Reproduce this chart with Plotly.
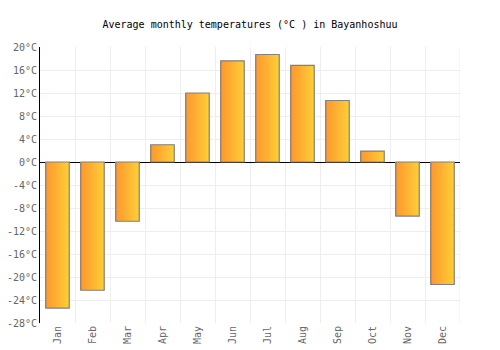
import plotly.graph_objects as go

months = ["Jan", "Feb", "Mar", "Apr", "May", "Jun", "Jul", "Aug", "Sep", "Oct", "Nov", "Dec"]
temps = [-25.4, -22.3, -10.3, 3.0, 12.0, 17.6, 18.7, 16.8, 10.7, 1.9, -9.4, -21.3]
y_ticks = list(range(-28, 21, 4))
y_labels = [f"{v}°C" for v in y_ticks]

xpos = list(range(len(months)))
bar_w = 0.67
n_strips = 16
c0 = (255, 152, 46)
c1 = (255, 204, 54)

fig = go.Figure()
for i in range(n_strips):
    t = i / (n_strips - 1)
    col = tuple(round(c0[k] + (c1[k] - c0[k]) * t) for k in range(3))
    fig.add_trace(go.Bar(
        x=xpos, y=temps,
        width=bar_w / n_strips + 0.002,
        offset=-bar_w / 2 + i * bar_w / n_strips,
        marker=dict(color=f"rgb{col}", line=dict(width=0)),
        hoverinfo="skip", showlegend=False,
    ))
fig.add_trace(go.Bar(
    x=xpos, y=temps, width=bar_w,
    marker=dict(color="rgba(0,0,0,0)", line=dict(color="#808080", width=1.2)),
    showlegend=False,
))

fig.update_layout(
    width=500, height=350,
    barmode="overlay",
    margin=dict(l=40, r=40, t=47, b=27, autoexpand=False),
    paper_bgcolor="white", plot_bgcolor="white",
    title=dict(text="Average monthly temperatures (°C ) in Bayanhoshuu",
               x=0.5, xanchor="center", y=0.93, yanchor="middle",
               font=dict(family="DejaVu Sans Mono", size=10, color="black")),
    font=dict(family="DejaVu Sans Mono", size=10, color="#666666"),
)
fig.update_xaxes(
    range=[-0.5, 11.5], tickvals=xpos, ticktext=months, tickangle=-90,
    showgrid=False, zeroline=False, showline=False, ticks="",
    minor=dict(tick0=0.5, dtick=1, showgrid=True, gridcolor="#eeeeee", gridwidth=1),
    fixedrange=True, automargin=False,
)
fig.update_yaxes(
    range=[-28, 20], tickvals=y_ticks, ticktext=y_labels,
    showgrid=True, gridcolor="#eeeeee", gridwidth=1,
    zeroline=True, zerolinecolor="black", zerolinewidth=1,
    showline=True, linecolor="black", linewidth=1,
    ticks="", fixedrange=True, automargin=False,
)
fig.add_shape(type="line", xref="x", yref="paper", x0=11.5, x1=11.5, y0=0, y1=1,
              line=dict(color="#eeeeee", width=1), layer="below")

fig.write_html("out.html")
